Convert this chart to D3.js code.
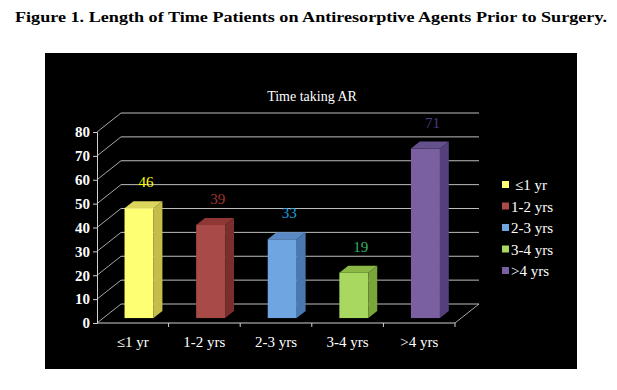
<!doctype html>
<html>
<head>
<style>
  body { margin: 0; background: white; }
  svg text { font-family: "Liberation Serif", "DejaVu Serif", serif !important; }
</style>
<script src="https://d3js.org/d3.v7.min.js"></script>
</head>
<body>
<script>
  // data
  var categories = ["\u22641 yr", "1-2 yrs", "2-3 yrs", "3-4 yrs", ">4 yrs"];
  var values = [46, 39, 33, 19, 71];
  var yTicks = [0, 10, 20, 30, 40, 50, 60, 70, 80];
  var frontColors = ["#ffff73", "#a84a48", "#6fa5e0", "#a8d860", "#7a60a0"];
  var sideColors  = ["#c4bd4c", "#7a2f2d", "#4a78b0", "#7aa53a", "#54407c"];
  var topColors   = ["#dcd65c", "#8f3735", "#5a88c4", "#8cb845", "#64508c"];
  var labelColors = ["#ffff00", "#a03432", "#1e9fe0", "#33b06a", "#4a3a80"];

  var W = 617, H = 390;
  var svg = d3.select("body").append("svg").attr("width", W).attr("height", H);

  svg.append("text")
    .attr("x", 15).attr("y", 22)
    .attr("font-size", "15px").attr("font-weight", "bold")
    .attr("textLength", 592).attr("lengthAdjust", "spacingAndGlyphs")
    .text("Figure 1. Length of Time Patients on Antiresorptive Agents Prior to Surgery.");

  // black chart area
  svg.append("rect").attr("x", 45).attr("y", 53).attr("width", 532).attr("height", 316).attr("fill", "black");

  svg.append("text")
    .attr("x", 312).attr("y", 101).attr("text-anchor", "middle")
    .attr("fill", "white").attr("font-size", "14px")
    .text("Time taking AR");

  var x = d3.scaleBand().domain(categories).range([97, 455]);
  var y = d3.scaleLinear().domain([0, 80]).range([323, 132]);
  var DX = 24, DY = -19; // depth offset of back wall
  var d0 = 0.26, d1 = 0.63; // bar depth range
  var barW = 29;

  var g = svg.append("g");

  // back wall gridlines
  g.selectAll(".grid").data(yTicks).enter().append("line")
    .attr("x1", x.range()[0] + DX).attr("x2", x.range()[1] + DX)
    .attr("y1", function(d) { return y(d) + DY; })
    .attr("y2", function(d) { return y(d) + DY; })
    .attr("stroke", "#bdbdbd").attr("stroke-width", 1);

  // left wall diagonals
  g.selectAll(".diag").data(yTicks).enter().append("line")
    .attr("x1", x.range()[0]).attr("x2", x.range()[0] + DX)
    .attr("y1", function(d) { return y(d); })
    .attr("y2", function(d) { return y(d) + DY; })
    .attr("stroke", "#d0d0d0").attr("stroke-width", 0.8);

  // floor
  g.append("line")
    .attr("x1", x.range()[0]).attr("x2", x.range()[1])
    .attr("y1", y(0)).attr("y2", y(0))
    .attr("stroke", "#d0d0d0");
  g.append("line")
    .attr("x1", x.range()[1]).attr("x2", x.range()[1] + DX)
    .attr("y1", y(0)).attr("y2", y(0) + DY)
    .attr("stroke", "#d0d0d0").attr("stroke-width", 0.8);

  // y axis
  var yAxis = g.append("g")
    .attr("transform", "translate(" + x.range()[0] + ",0)")
    .call(d3.axisLeft(y).tickValues(yTicks).tickSize(4).tickPadding(3));
  yAxis.select(".domain").attr("stroke", "#d0d0d0");
  yAxis.selectAll(".tick line").attr("stroke", "#d0d0d0");
  yAxis.selectAll(".tick text")
    .attr("fill", "white").attr("font-size", "15px").attr("font-weight", "bold");

  // x axis
  var xAxis = g.append("g")
    .attr("transform", "translate(0," + y(0) + ")")
    .call(d3.axisBottom(x).tickSize(0).tickPadding(13));
  xAxis.select(".domain").remove();
  xAxis.selectAll(".tick text")
    .attr("fill", "white").attr("font-size", "15px");
  xAxis.selectAll(".sep").data(categories).enter().append("line")
    .attr("x1", function(d) { return x(d) + x.bandwidth(); })
    .attr("x2", function(d) { return x(d) + x.bandwidth(); })
    .attr("y1", 0).attr("y2", 4)
    .attr("stroke", "#d0d0d0");

  // bars
  var bars = g.selectAll(".bar").data(values).enter().append("g");
  var bx = function(i) { return x(categories[i]) + x.bandwidth() / 2 - barW / 2 + d0 * DX; };
  var by0 = y(0) + d0 * DY;
  var ddx = (d1 - d0) * DX, ddy = (d1 - d0) * DY;

  bars.append("rect")
    .attr("x", function(d, i) { return bx(i); })
    .attr("y", function(d) { return y(d) + d0 * DY; })
    .attr("width", barW)
    .attr("height", function(d) { return y(0) - y(d); })
    .attr("fill", function(d, i) { return frontColors[i]; });

  bars.append("path")
    .attr("d", function(d, i) {
      var xr = bx(i) + barW, yt = y(d) + d0 * DY;
      return "M" + xr + "," + yt + "L" + (xr + ddx) + "," + (yt + ddy) +
             "L" + (xr + ddx) + "," + (by0 + ddy) + "L" + xr + "," + by0 + "Z";
    })
    .attr("fill", function(d, i) { return sideColors[i]; });

  bars.append("path")
    .attr("d", function(d, i) {
      var xl = bx(i), yt = y(d) + d0 * DY;
      return "M" + xl + "," + yt + "L" + (xl + barW) + "," + yt +
             "L" + (xl + barW + ddx) + "," + (yt + ddy) + "L" + (xl + ddx) + "," + (yt + ddy) + "Z";
    })
    .attr("fill", function(d, i) { return topColors[i]; });

  bars.append("text")
    .attr("x", function(d, i) { return bx(i) + barW / 2 + 7; })
    .attr("y", function(d) { return y(d) + d0 * DY - 21; })
    .attr("text-anchor", "middle").attr("font-size", "15px")
    .attr("fill", function(d, i) { return labelColors[i]; })
    .text(function(d) { return d; });

  // legend
  var legend = svg.append("g").selectAll("g").data(categories).enter().append("g")
    .attr("transform", function(d, i) { return "translate(502," + (185 + i * 21.5) + ")"; });
  legend.append("rect")
    .attr("x", 0).attr("y", -4).attr("width", 7).attr("height", 7)
    .attr("fill", function(d, i) { return frontColors[i]; });
  legend.append("text")
    .attr("x", function(d, i) { return i === 0 ? 13 : 9; }).attr("y", 5)
    .attr("fill", "white").attr("font-size", "15px")
    .text(function(d) { return d; });
</script>
</body>
</html>
